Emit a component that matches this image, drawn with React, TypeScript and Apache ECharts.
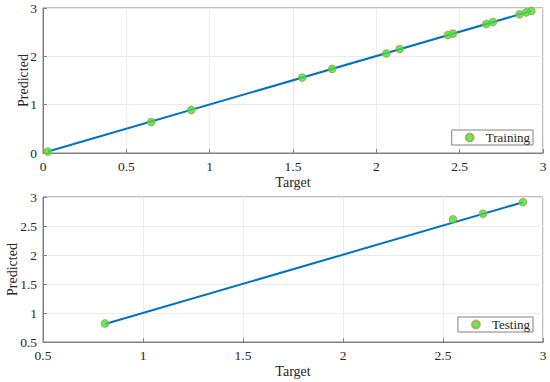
import React, { useEffect, useRef } from "react";
import * as echarts from "echarts";

const trainTarget = [0.03, 0.65, 0.89, 1.555, 1.735, 2.06, 2.14, 2.43, 2.46, 2.66, 2.70, 2.86, 2.90, 2.93];
const trainPred = [0.03, 0.64, 0.89, 1.56, 1.74, 2.06, 2.15, 2.44, 2.47, 2.67, 2.71, 2.87, 2.91, 2.94];
const trainFitX = [0.03, 2.93];
const trainFitY = [0.03, 2.94];

const testTarget = [0.81, 2.55, 2.70, 2.90];
const testPred = [0.82, 2.615, 2.71, 2.91];
const testFitX = [0.81, 2.90];
const testFitY = [0.81, 2.91];

const FONT = "'Liberation Serif', 'Times New Roman', serif";
const TXT = "#262626";

export default function App() {
  const ref = useRef<HTMLDivElement>(null);
  useEffect(() => {
    if (!ref.current) return;
    const chart = echarts.init(ref.current, null, { renderer: "svg" });
    const lbl = { color: TXT, fontFamily: FONT, fontSize: 13.5, margin: 6 };
    const axisCommon = (extra: any) => ({
      type: "value",
      axisLine: { show: true, lineStyle: { color: "#808080", width: 1 } },
      axisTick: { show: true, inside: true, length: 4, lineStyle: { color: "#808080" } },
      axisLabel: lbl,
      splitLine: { show: true, lineStyle: { color: "#ebebeb", width: 1 } },
      nameLocation: "middle",
      nameMoveOverlap: false,
      nameTextStyle: { color: TXT, fontFamily: FONT, fontSize: 14 },
      ...extra,
    });
    const marker = {
      color: "#30ec40",
      borderColor: "#b89a40",
      borderWidth: 1.2,
    };
    const mk = (xs: number[], ys: number[]) => xs.map((x, i) => [x, ys[i]]);
    const legendCommon = {
      right: 17,
      orient: "vertical",
      backgroundColor: "#ffffff",
      borderColor: "#808080",
      borderWidth: 1,
      borderRadius: 0,
      padding: [1, 3, 1, 13],
      itemWidth: 8,
      itemHeight: 8,
      textStyle: { color: TXT, fontFamily: FONT, fontSize: 13, padding: [0, 0, 0, 7] },
    };
    const gridCommon = {
      left: 43,
      width: 500,
      height: 145,
      show: true,
      borderColor: "#808080",
      borderWidth: 1,
      containLabel: false,
      outerBoundsMode: "none",
    };
    chart.setOption({
      animation: false,
      backgroundColor: "#ffffff",
      grid: [
        { ...gridCommon, top: 8 },
        { ...gridCommon, top: 197 },
      ],
      xAxis: [
        axisCommon({ gridIndex: 0, min: 0, max: 3, interval: 0.5, name: "Target", nameGap: 22 }),
        axisCommon({ gridIndex: 1, min: 0.5, max: 3, interval: 0.5, name: "Target", nameGap: 22 }),
      ],
      yAxis: [
        axisCommon({ gridIndex: 0, min: 0, max: 3, interval: 1, name: "Predicted", nameGap: 13 }),
        axisCommon({ gridIndex: 1, min: 0.5, max: 3, interval: 0.5, name: "Predicted", nameGap: 24 }),
      ],
      legend: [
        { ...legendCommon, data: ["Training"], top: 130 },
        { ...legendCommon, data: ["Testing"], top: 317 },
      ],
      series: [
        {
          name: "TrainFit",
          type: "line",
          xAxisIndex: 0,
          yAxisIndex: 0,
          data: mk(trainFitX, trainFitY),
          showSymbol: false,
          lineStyle: { color: "#0072BD", width: 2 },
          z: 2,
        },
        {
          name: "Training",
          type: "scatter",
          xAxisIndex: 0,
          yAxisIndex: 0,
          data: mk(trainTarget, trainPred),
          symbolSize: 7.5,
          itemStyle: marker,
          z: 3,
        },
        {
          name: "TestFit",
          type: "line",
          xAxisIndex: 1,
          yAxisIndex: 1,
          data: mk(testFitX, testFitY),
          showSymbol: false,
          lineStyle: { color: "#0072BD", width: 2 },
          z: 2,
        },
        {
          name: "Testing",
          type: "scatter",
          xAxisIndex: 1,
          yAxisIndex: 1,
          data: mk(testTarget, testPred),
          symbolSize: 7.5,
          itemStyle: marker,
          z: 3,
        },
      ],
    });
    return () => chart.dispose();
  }, []);
  return <div ref={ref} style={{ width: 550, height: 382, position: "absolute", left: 0, top: 0 }} />;
}
